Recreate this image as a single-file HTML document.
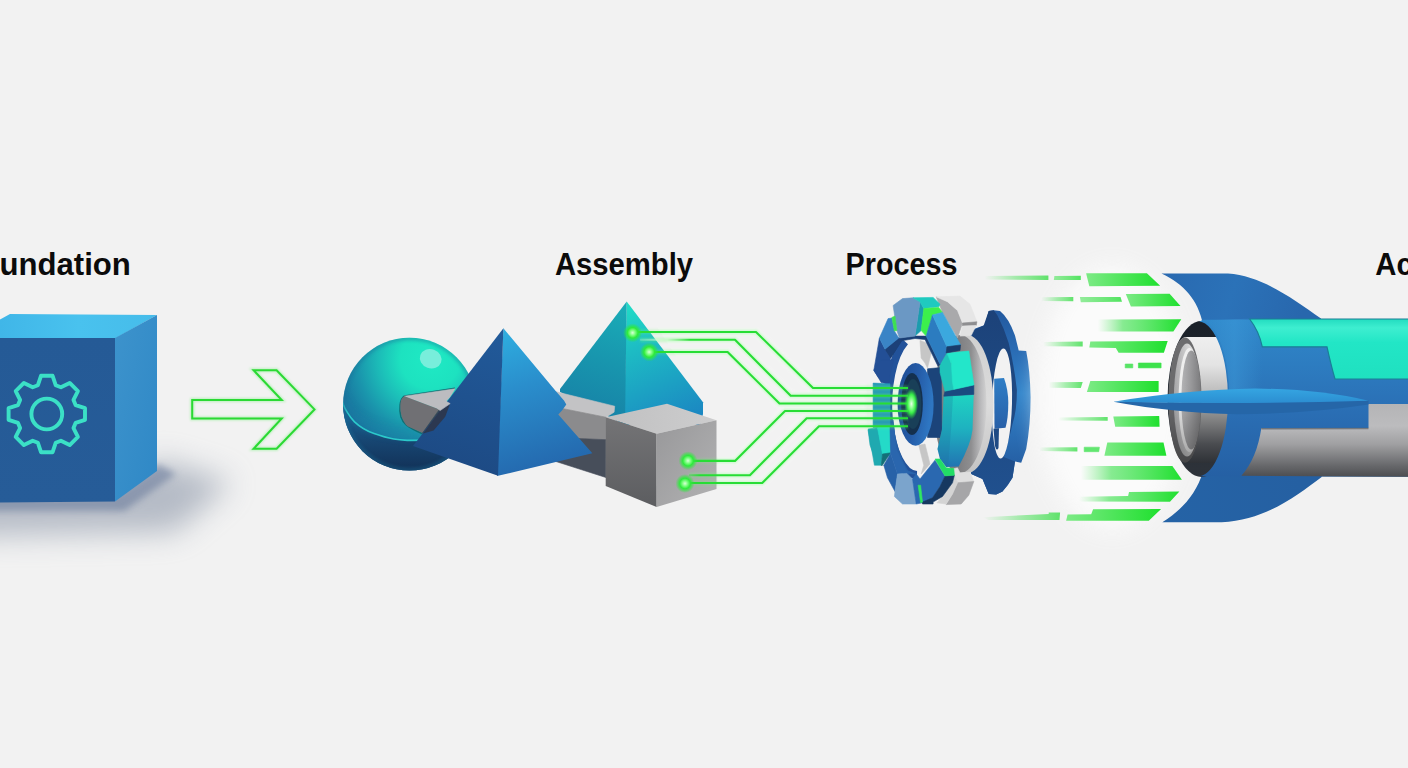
<!DOCTYPE html>
<html lang="en">
<head>
<meta charset="utf-8">
<title>Foundation, Assembly, Process, Acceleration</title>
<style>
html,body{margin:0;padding:0;background:#f2f2f2;overflow:hidden;}
body{width:1408px;height:768px;}
svg{display:block;position:absolute;left:0;top:0;}
text{font-family:"Liberation Sans",sans-serif;font-weight:bold;fill:#0b0b0b;}
</style>
</head>
<body>
<svg width="1408" height="768" viewBox="0 0 1408 768">
<defs>
<filter id="blur12" x="-50%" y="-50%" width="200%" height="200%"><feGaussianBlur stdDeviation="11"/></filter>
<filter id="blur2" x="-50%" y="-50%" width="200%" height="200%"><feGaussianBlur stdDeviation="1.6"/></filter>
<filter id="blur1" x="-50%" y="-50%" width="200%" height="200%"><feGaussianBlur stdDeviation="0.8"/></filter>
<filter id="blur4" x="-50%" y="-50%" width="200%" height="200%"><feGaussianBlur stdDeviation="3.5"/></filter>
<filter id="blur16" x="-50%" y="-80%" width="200%" height="260%"><feGaussianBlur stdDeviation="15"/></filter>
<linearGradient id="cubeFront" x1="0" y1="0" x2="0" y2="1"><stop offset="0" stop-color="#255a96"/><stop offset="1" stop-color="#265c98"/></linearGradient>
<linearGradient id="cubeRight" x1="0" y1="0" x2="1" y2="1"><stop offset="0" stop-color="#3d93cc"/><stop offset="1" stop-color="#2f88c6"/></linearGradient>
<linearGradient id="cubeTop" x1="0" y1="0" x2="1" y2="0"><stop offset="0" stop-color="#40b6e8"/><stop offset="0.5" stop-color="#49c2ee"/><stop offset="1" stop-color="#46bcea"/></linearGradient>
<radialGradient id="sphG" cx="428" cy="362" r="106" fx="431" fy="358" gradientUnits="userSpaceOnUse"><stop offset="0" stop-color="#1feac4"/><stop offset="0.28" stop-color="#1de2c0"/><stop offset="0.48" stop-color="#1cbcb8"/><stop offset="0.68" stop-color="#1a94ac"/><stop offset="0.88" stop-color="#19729e"/><stop offset="1" stop-color="#186094"/></radialGradient>
<linearGradient id="sphLow" x1="0" y1="420" x2="0" y2="472" gradientUnits="userSpaceOnUse"><stop offset="0" stop-color="#195a8a"/><stop offset="0.4" stop-color="#174672"/><stop offset="1" stop-color="#123056"/></linearGradient>
<clipPath id="sphClip"><circle cx="409.5" cy="404.2" r="66.4"/></clipPath>
<linearGradient id="p2L" x1="626" y1="301" x2="585" y2="420" gradientUnits="userSpaceOnUse"><stop offset="0" stop-color="#1aaeb8"/><stop offset="0.5" stop-color="#1896ae"/><stop offset="1" stop-color="#1780a6"/></linearGradient>
<linearGradient id="p2R" x1="628" y1="301" x2="680" y2="425" gradientUnits="userSpaceOnUse"><stop offset="0" stop-color="#21dec6"/><stop offset="0.35" stop-color="#1dbcc4"/><stop offset="1" stop-color="#1b86c2"/></linearGradient>
<linearGradient id="p1L" x1="500" y1="330" x2="455" y2="470" gradientUnits="userSpaceOnUse"><stop offset="0" stop-color="#215a9a"/><stop offset="1" stop-color="#1d4a84"/></linearGradient>
<linearGradient id="p1R" x1="505" y1="330" x2="545" y2="470" gradientUnits="userSpaceOnUse"><stop offset="0" stop-color="#2eaee0"/><stop offset="0.4" stop-color="#2a8ecc"/><stop offset="1" stop-color="#2468ae"/></linearGradient>
<linearGradient id="gcTop" x1="0" y1="0" x2="1" y2="0"><stop offset="0" stop-color="#c0c0c1"/><stop offset="1" stop-color="#cdcdce"/></linearGradient>
<linearGradient id="gcL" x1="0" y1="0" x2="0" y2="1"><stop offset="0" stop-color="#747476"/><stop offset="1" stop-color="#5c5d60"/></linearGradient>
<linearGradient id="gcR" x1="0" y1="0" x2="1" y2="1"><stop offset="0" stop-color="#98989a"/><stop offset="1" stop-color="#b2b2b3"/></linearGradient>
<linearGradient id="bgRim" x1="0" y1="310" x2="0" y2="495" gradientUnits="userSpaceOnUse"><stop offset="0" stop-color="#22589e"/><stop offset="0.22" stop-color="#2a6cb4"/><stop offset="0.45" stop-color="#3184ca"/><stop offset="0.7" stop-color="#2a6cb2"/><stop offset="1" stop-color="#1f4f92"/></linearGradient>
<linearGradient id="bgNavy" x1="0" y1="310" x2="0" y2="495" gradientUnits="userSpaceOnUse"><stop offset="0" stop-color="#1c4279"/><stop offset="0.5" stop-color="#1e4a84"/><stop offset="1" stop-color="#20508e"/></linearGradient>
<linearGradient id="bgHub" x1="0" y1="0" x2="0" y2="1"><stop offset="0" stop-color="#2f7ec6"/><stop offset="1" stop-color="#2860a8"/></linearGradient>
<linearGradient id="discEdge" x1="0" y1="335" x2="0" y2="473" gradientUnits="userSpaceOnUse"><stop offset="0" stop-color="#d0d0d0"/><stop offset="0.5" stop-color="#dcdcdc"/><stop offset="1" stop-color="#c4c4c4"/></linearGradient>
<linearGradient id="discFace" x1="958" y1="0" x2="987" y2="0" gradientUnits="userSpaceOnUse"><stop offset="0" stop-color="#7e7e80"/><stop offset="0.45" stop-color="#8e8e90"/><stop offset="0.8" stop-color="#bcbcbe"/><stop offset="1" stop-color="#d4d4d4"/></linearGradient>
<linearGradient id="tealLow" x1="0" y1="396" x2="0" y2="468" gradientUnits="userSpaceOnUse"><stop offset="0" stop-color="#1fd2c2"/><stop offset="0.45" stop-color="#1eb2c0"/><stop offset="1" stop-color="#2272b2"/></linearGradient>
<linearGradient id="hubRing" x1="0" y1="0" x2="1" y2="0.3"><stop offset="0" stop-color="#1c4a90"/><stop offset="0.55" stop-color="#245aa6"/><stop offset="1" stop-color="#2e76c2"/></linearGradient>
<clipPath id="glowClip"><rect x="718" y="300" width="150" height="220"/><polygon points="640,300 718,300 718,412 704,400"/></clipPath>
<linearGradient id="fadeB" x1="640" y1="0" x2="690" y2="0" gradientUnits="userSpaceOnUse"><stop offset="0" stop-color="#eaffea" stop-opacity="0.2"/><stop offset="0.55" stop-color="#c8f8c8" stop-opacity="0.8"/><stop offset="1" stop-color="#27dd35" stop-opacity="1"/></linearGradient>
<linearGradient id="fadeE" x1="688" y1="0" x2="700" y2="0" gradientUnits="userSpaceOnUse"><stop offset="0" stop-color="#27dd35" stop-opacity="0.3"/><stop offset="1" stop-color="#27dd35" stop-opacity="1"/></linearGradient>
<radialGradient id="dotG" cx="0.5" cy="0.5" r="0.5" fx="0.5" fy="0.5"><stop offset="0" stop-color="#d8ffd8"/><stop offset="0.28" stop-color="#7cff80"/><stop offset="0.55" stop-color="#2eea3c"/><stop offset="1" stop-color="#2eea3c" stop-opacity="0"/></radialGradient>
<radialGradient id="glowG" cx="0.5" cy="0.5" r="0.5" fx="0.5" fy="0.5"><stop offset="0" stop-color="#e8ffe8"/><stop offset="0.3" stop-color="#8cff90"/><stop offset="0.6" stop-color="#38ee48"/><stop offset="1" stop-color="#2ee040" stop-opacity="0"/></radialGradient>
<linearGradient id="stk" x1="0" y1="0" x2="1" y2="0"><stop offset="0" stop-color="#7dea86"/><stop offset="1" stop-color="#1fe02e"/></linearGradient>
<linearGradient id="stkFade" x1="0" y1="0" x2="1" y2="0"><stop offset="0" stop-color="#5fe36c" stop-opacity="0"/><stop offset="0.5" stop-color="#5fe36c" stop-opacity="0.55"/><stop offset="1" stop-color="#4fe05c" stop-opacity="0.9"/></linearGradient>
<linearGradient id="stkFadeBig" x1="0" y1="0" x2="1" y2="0"><stop offset="0" stop-color="#6be878" stop-opacity="0"/><stop offset="0.3" stop-color="#55e464" stop-opacity="0.7"/><stop offset="1" stop-color="#1fe02e" stop-opacity="1"/></linearGradient>
<linearGradient id="stkMid" x1="0" y1="0" x2="1" y2="0"><stop offset="0" stop-color="#7ae884" stop-opacity="0.8"/><stop offset="1" stop-color="#52e460" stop-opacity="1"/></linearGradient>
<linearGradient id="finTop" x1="1162" y1="274" x2="1300" y2="320" gradientUnits="userSpaceOnUse"><stop offset="0" stop-color="#2969b0"/><stop offset="0.5" stop-color="#2b72b8"/><stop offset="1" stop-color="#2867ad"/></linearGradient>
<linearGradient id="finBot" x1="1162" y1="522" x2="1300" y2="476" gradientUnits="userSpaceOnUse"><stop offset="0" stop-color="#2563a6"/><stop offset="1" stop-color="#2560a2"/></linearGradient>
<linearGradient id="cowlIn" x1="0" y1="321" x2="0" y2="477" gradientUnits="userSpaceOnUse"><stop offset="0" stop-color="#1a2028"/><stop offset="0.5" stop-color="#252b33"/><stop offset="1" stop-color="#2e333a"/></linearGradient>
<linearGradient id="nozCyl" x1="0" y1="337" x2="0" y2="463" gradientUnits="userSpaceOnUse"><stop offset="0" stop-color="#efefef"/><stop offset="0.22" stop-color="#e4e4e4"/><stop offset="0.48" stop-color="#b4b4b4"/><stop offset="0.62" stop-color="#8c8c8c"/><stop offset="0.85" stop-color="#4a4c50"/><stop offset="1" stop-color="#2e3136"/></linearGradient>
<linearGradient id="bodyBlue" x1="0" y1="318" x2="0" y2="476" gradientUnits="userSpaceOnUse"><stop offset="0" stop-color="#2f88ca"/><stop offset="0.3" stop-color="#2d7cc0"/><stop offset="0.6" stop-color="#2a6eb4"/><stop offset="1" stop-color="#2560a4"/></linearGradient>
<linearGradient id="cowlHi" x1="1200" y1="0" x2="1262" y2="0" gradientUnits="userSpaceOnUse"><stop offset="0" stop-color="#3c98d8" stop-opacity="0"/><stop offset="0.55" stop-color="#3c98d8" stop-opacity="0.55"/><stop offset="1" stop-color="#3c98d8" stop-opacity="0"/></linearGradient>
<linearGradient id="bodyGray" x1="0" y1="404" x2="0" y2="477" gradientUnits="userSpaceOnUse"><stop offset="0" stop-color="#b4b4b6"/><stop offset="0.3" stop-color="#bcbcbe"/><stop offset="0.55" stop-color="#a0a0a2"/><stop offset="0.85" stop-color="#66676a"/><stop offset="1" stop-color="#4c4d50"/></linearGradient>
<linearGradient id="teal" x1="0" y1="318" x2="0" y2="379" gradientUnits="userSpaceOnUse"><stop offset="0" stop-color="#1fdabe"/><stop offset="0.16" stop-color="#3eeed0"/><stop offset="0.4" stop-color="#22e6c6"/><stop offset="1" stop-color="#1fe0c0"/></linearGradient>
<linearGradient id="nozR2" x1="0" y1="0" x2="1" y2="0"><stop offset="0" stop-color="#a8a8aa"/><stop offset="0.6" stop-color="#d8d8d8"/><stop offset="1" stop-color="#f4f4f4"/></linearGradient>
<linearGradient id="nozIn" x1="0" y1="0" x2="1" y2="0"><stop offset="0" stop-color="#b6b6b8"/><stop offset="0.5" stop-color="#9a9a9c"/><stop offset="1" stop-color="#7c7c7e"/></linearGradient>
<linearGradient id="nozShade" x1="0" y1="337" x2="0" y2="463" gradientUnits="userSpaceOnUse"><stop offset="0" stop-color="#000" stop-opacity="0"/><stop offset="0.5" stop-color="#000" stop-opacity="0.02"/><stop offset="1" stop-color="#000" stop-opacity="0.35"/></linearGradient>
<linearGradient id="finSideTop" x1="0" y1="388" x2="0" y2="404" gradientUnits="userSpaceOnUse"><stop offset="0" stop-color="#35a6e2"/><stop offset="1" stop-color="#2b8cd0"/></linearGradient>
</defs>
<rect x="0" y="0" width="1408" height="768" fill="#f2f2f2"/>
<polygon points="-40,488 116,488 160,460 232,482 175,532 -40,536" fill="#78849a" opacity="0.5" filter="url(#blur16)"/>
<polygon points="-30,492 116,492 158,464 176,474 124,511 -30,511" fill="#5a6d92" opacity="0.5" filter="url(#blur4)"/>
<polygon points="0,319.5 10,314 157,315 115,338.5 0,338.5" fill="url(#cubeTop)" />
<polygon points="115,338 157,315 157,471 115,501.5" fill="url(#cubeRight)" />
<polygon points="0,338 115,338 115,501.5 0,502.5" fill="url(#cubeFront)" />
<path d="M37.9,385.2 L41.0,375.8 L52.6,375.8 L55.7,385.2 L60.9,387.3 L69.7,382.9 L77.9,391.1 L73.5,399.9 L75.6,405.1 L85.0,408.2 L85.0,419.8 L75.6,422.9 L73.5,428.1 L77.9,436.9 L69.7,445.1 L60.9,440.7 L55.7,442.8 L52.6,452.2 L41.0,452.2 L37.9,442.8 L32.7,440.7 L23.9,445.1 L15.7,436.9 L20.1,428.1 L18.0,422.9 L8.6,419.8 L8.6,408.2 L18.0,405.1 L20.1,399.9 L15.7,391.1 L23.9,382.9 L32.7,387.3 Z" fill="none" stroke="#3be0c6" stroke-width="3.9" stroke-linejoin="round"/>
<circle cx="46.8" cy="414" r="15.4" fill="none" stroke="#3be0c6" stroke-width="3.9"/>
<path d="M192.2,400 L281.7,400 L253.6,370.3 L276.6,370.3 L314.5,409.4 L276.6,448.7 L253.6,448.7 L281.7,418.4 L192.2,418.4 Z" fill="none" stroke="#5cf060" stroke-width="4" opacity="0.35" filter="url(#blur1)"/>
<path d="M192.2,400 L281.7,400 L253.6,370.3 L276.6,370.3 L314.5,409.4 L276.6,448.7 L253.6,448.7 L281.7,418.4 L192.2,418.4 Z" fill="none" stroke="#2bd934" stroke-width="2" stroke-linejoin="miter"/>
<circle cx="409.5" cy="404.2" r="66.4" fill="url(#sphG)"/>
<g clip-path="url(#sphClip)">
<path d="M341,397 L343.2,404.2 C344.5,408 349,416.5 354.5,421.8 C360,427 367,431 374,433.5 C381,436 388,438 393.6,439 C398,439.8 403,440.2 407.3,440.4 L480,440 L480,480 L338,480 Z" fill="url(#sphLow)"/>
<path d="M341,399 C346,412 356,421 374,428 C385,431 397,433 410,434" fill="none" stroke="#1a86a8" stroke-width="10" opacity="0.35" filter="url(#blur4)"/>
<path d="M341,397 L343.2,404.2 C344.5,408 349,416.5 354.5,421.8 C360,427 367,431 374,433.5 C381,436 388,438 393.6,439 C398,439.8 403,440.2 407.3,440.4 L480,440" fill="none" stroke="#2fd4d0" stroke-width="1.6" opacity="0.9"/>
<circle cx="409.5" cy="404.2" r="66.4" fill="none" stroke="#1a6f98" stroke-width="6" opacity="0.35" filter="url(#blur2)"/>
</g>
<ellipse cx="430.7" cy="358.7" rx="11" ry="9.6" fill="#78eedb" transform="rotate(20 430.7 358.7)"/>
<path d="M455,388.4 L404.6,396 C399.5,399 399,410 401,417 C403,423 406,426.5 422.5,433.8" fill="none" stroke="#0e6f74" stroke-width="1.6"/>
<polygon points="404.4,396.2 455.0,388.8 450.0,396.9 446.2,401.2 449.4,403.1 439.4,409.4" fill="#bcbcc0"  stroke="#bcbcc0" stroke-width="0.6" stroke-linejoin="round"/>
<path d="M404.4,396.3 L439.4,409.4 L422.5,433.1 L407.5,426.3 C402,421 400,413 400.3,405 C400.6,400 402,397.5 404.4,396.3 Z" fill="#707074"/>
<polygon points="439.4,409.4 449.4,403.1 455.0,407.5 432.5,435.0 422.5,433.1" fill="#3b4250"  stroke="#3b4250" stroke-width="0.6" stroke-linejoin="round"/>
<polygon points="626.7,301.4 624,425 700,425 703,414 703,402.3" fill="url(#p2R)" />
<polygon points="626.7,301.4 560,389 560,392 625,425" fill="url(#p2L)" />
<polygon points="540,388 556.3,391.8 614.7,406.2 614.1,412.2 605.7,417.4 545,405" fill="#c3c3c5"  stroke="#c3c3c5" stroke-width="0.6" stroke-linejoin="round"/>
<polygon points="545,405 605.9,417.2 605.9,440 545,437" fill="#8b8b8d"  stroke="#8b8b8d" stroke-width="0.6" stroke-linejoin="round"/>
<polygon points="545,437 605.9,439.7 605.9,477.5 545,458" fill="#474e5a"  stroke="#474e5a" stroke-width="0.6" stroke-linejoin="round"/>
<polygon points="503.4,328.3 497,475.8 498,475.8 592.3,453.2 558.3,414.6 562,410.5 566.3,404.6 564,400.5 555.7,391.1" fill="url(#p1R)" />
<polygon points="503.4,328.3 413,446 498,475.8" fill="url(#p1L)" />
<path d="M440.1,410.4 L450,404 L445.2,416.8 L433.6,430.4 L423.1,433.4 Z" fill="#2c3850"/>
<polygon points="444.6,400.6 450.2,403.6 440.1,410.6 437.5,408.6" fill="#bcbcc0"  stroke="#bcbcc0" stroke-width="0.6" stroke-linejoin="round"/>
<polygon points="605.7,417.2 667,403.8 716.5,420.2 656.6,433.7" fill="url(#gcTop)" />
<polygon points="605.7,417.2 656.6,433.7 656.6,507 605.7,486" fill="url(#gcL)" />
<polygon points="656.6,433.7 716.5,420.2 716.5,489 656.6,507" fill="url(#gcR)" />
<path d="M985,325 L988.7,311.1 L993.7,310.2 L1000,311.1 Q1008.7,318 1015,335.5 L1018.7,350.5 L1026.2,351.1 Q1030,370 1030.6,397 Q1030.6,425 1026.2,449 L1021.2,462.7 L1015,461.5 L1012.5,477.7 Q1008,486 1002.5,491.5 L996.2,494.6 L988.7,494 L982.5,479 L971.2,474 L960,400 L971,330 Z" fill="url(#bgRim)"/>
<path d="M972.5,330.5 L983.7,325.5 L988.7,311.1 L993.7,310.2 L997.5,315.5 Q1004,328 1008.7,343 Q1014,365 1016.9,390 Q1017,410 1012.5,424 Q1010,436 1003.7,457 L1015,461.5 L1012.5,477.7 L1002.5,491.5 L996.2,494.6 L988.7,494 L982.5,479 L971.2,474 L960,400 Z" fill="url(#bgNavy)"/>
<ellipse cx="1002" cy="403.5" rx="10" ry="55" fill="#f2f2f2" transform="rotate(1.5 1002 403.5)"/>
<path d="M994.2,378.7 L1004,378 Q1008.3,390 1008.3,403 Q1008.3,418 1005.5,427.7 L994.5,428.7 Z" fill="url(#bgHub)"/>
<path d="M993.5,428.7 L999,428.3 L998.5,448 Q996.5,452 995,446 Z" fill="#1e4a84"/>
<ellipse cx="967" cy="404" rx="26.5" ry="69" fill="url(#discEdge)"/>
<ellipse cx="960" cy="404" rx="26.5" ry="69" fill="url(#discFace)"/>
<polygon points="936.2,296.8 947.5,301.8 957.5,310.5 962.5,323.0 957.5,338.0 942.5,312.4" fill="#a9a9ab"  stroke="#a9a9ab" stroke-width="0.6" stroke-linejoin="round"/>
<polygon points="936.2,296.8 960.0,296.1 970.0,304.2 976.9,321.8 962.5,323.0 957.5,310.5 947.5,301.8" fill="#e6e6e6"  stroke="#e6e6e6" stroke-width="0.6" stroke-linejoin="round"/>
<polygon points="962.5,323.0 976.9,321.8 976.2,325.5 962.5,326.1" fill="#8e8e90"  stroke="#8e8e90" stroke-width="0.6" stroke-linejoin="round"/>
<polygon points="962.5,326.1 976.2,325.5 971.2,335.5 960.0,336.1" fill="#e2e2e2"  stroke="#e2e2e2" stroke-width="0.6" stroke-linejoin="round"/>
<polygon points="952.5,469.0 957.5,467.8 960.0,472.8 970.0,472.1 973.8,481.5 957.5,482.8 954.4,475.2" fill="#dedede"  stroke="#dedede" stroke-width="0.6" stroke-linejoin="round"/>
<polygon points="957.5,482.8 973.8,481.5 968.8,495.2 961.2,504.0 946.2,504.6 952.5,494.0" fill="#a6a6a8"  stroke="#a6a6a8" stroke-width="0.6" stroke-linejoin="round"/>
<polygon points="954.4,475.2 957.5,482.8 952.5,494.0 946.2,504.0 936.9,502.8 942.5,496.5 952.5,482.8" fill="#d4d4d4"  stroke="#d4d4d4" stroke-width="0.6" stroke-linejoin="round"/>
<polygon points="920.0,340.5 930.0,344.2 931.2,353.0 927.5,368.0 925.0,363.0 921.2,358.0" fill="#c6c6c6"  stroke="#c6c6c6" stroke-width="0.6" stroke-linejoin="round"/>
<polygon points="918.8,445.2 925.0,444.0 930.0,464.0 921.2,474.0 923.8,465.2" fill="#c6c6c6"  stroke="#c6c6c6" stroke-width="0.6" stroke-linejoin="round"/>
<polygon points="927.5,368.8 941.2,367.5 941.9,430.0 940.0,437.5 927.5,437.5" fill="#1b447a"  stroke="#1b447a" stroke-width="0.6" stroke-linejoin="round"/>
<path d="M943.7,396.2 L973.7,394.4 L972.5,430 Q971,444 958.7,466.5 L946.2,467.1 L940,459 L937.5,449 L941.9,430 Z" fill="url(#tealLow)"/>
<path d="M943.7,396.2 L953,395.6 L951,430 L948,467 L946.2,467.1 L940,459 L937.5,449 L941.9,430 Z" fill="#1a6f9a" opacity="0.25"/>
<polygon points="945.0,391.2 973.8,385.0 973.8,394.4 943.8,396.2" fill="#1a4a80"  stroke="#1a4a80" stroke-width="0.6" stroke-linejoin="round"/>
<polygon points="940.0,364.2 946.9,353.0 951.2,363.0 955.0,384.0 952.5,382.5 953.8,389.4 945.0,391.2 940.0,372.5 940.0,360.0" fill="#1fc4ba"  stroke="#1fc4ba" stroke-width="0.6" stroke-linejoin="round"/>
<polygon points="946.9,353.0 968.8,351.1 973.8,384.0 973.8,385.0 953.8,389.4 952.5,382.5 951.2,360.0 951.2,363.0" fill="#23e6ca"  stroke="#23e6ca" stroke-width="0.6" stroke-linejoin="round"/>
<path d="M905,341.5 A29,70 0 0 0 917,475" fill="none" stroke="#22529a" stroke-width="8"/>
<path d="M890.5,420 Q892,450 906,473" fill="none" stroke="#2760a6" stroke-width="6"/>
<polygon points="885.0,349.2 898.8,338.0 915.0,336.1 926.2,336.1 940.0,364.2 938.1,366.5 925.0,339.5 915.0,338.5 901.5,340.8 893.8,353.0 890.6,358.0" fill="#1b3f74"  stroke="#1b3f74" stroke-width="0.6" stroke-linejoin="round"/>
<polygon points="879.4,338.0 885.0,349.2 890.6,358.0 885.6,384.0 878.8,378.0 873.8,370.5" fill="#234f96"  stroke="#234f96" stroke-width="0.6" stroke-linejoin="round"/>
<polygon points="885.0,349.2 898.8,338.0 901.9,340.5 893.8,353.0 890.6,358.0" fill="#1c4078"  stroke="#1c4078" stroke-width="0.6" stroke-linejoin="round"/>
<polygon points="888.1,318.6 891.9,318.0 894.4,331.1 898.8,338.0 885.0,349.2 879.4,338.0" fill="#3a84c6"  stroke="#3a84c6" stroke-width="0.6" stroke-linejoin="round"/>
<polygon points="873.8,370.0 881.2,360.0 893.8,360.0 890.0,375.0 888.8,383.8 881.2,382.5" fill="#234f96"  stroke="#234f96" stroke-width="0.6" stroke-linejoin="round"/>
<polygon points="920.0,301.8 923.8,308.6 921.2,330.5 915.0,336.1" fill="#1b9cae"  stroke="#1b9cae" stroke-width="0.6" stroke-linejoin="round"/>
<polygon points="893.1,305.5 902.5,298.6 913.1,297.8 920.0,301.8 915.0,336.1 899.4,338.0 896.9,330.5" fill="#6b98c4"  stroke="#6b98c4" stroke-width="0.6" stroke-linejoin="round"/>
<polygon points="913.1,297.8 933.1,297.4 940.0,304.2 938.8,306.8 923.8,308.6 920.0,301.8" fill="#1fcabf"  stroke="#1fcabf" stroke-width="0.6" stroke-linejoin="round"/>
<polygon points="923.8,308.6 938.8,307.4 942.5,312.4 932.5,314.9 926.2,336.1 921.2,330.5" fill="#3cf04c"  stroke="#3cf04c" stroke-width="0.6" stroke-linejoin="round"/>
<polygon points="891.9,317.4 895.0,316.1 896.9,330.5 894.4,331.1" fill="#3ce050"  stroke="#3ce050" stroke-width="0.6" stroke-linejoin="round"/>
<polygon points="932.5,314.9 946.9,346.8 946.2,353.0 940.0,364.2 926.2,336.1" fill="#2c7cc0"  stroke="#2c7cc0" stroke-width="0.6" stroke-linejoin="round"/>
<polygon points="932.5,314.9 942.5,312.4 960.6,344.9 946.9,346.8" fill="#3ba8de"  stroke="#3ba8de" stroke-width="0.6" stroke-linejoin="round"/>
<polygon points="946.9,346.8 960.6,344.9 960.0,350.5 946.2,353.0" fill="#183c6c"  stroke="#183c6c" stroke-width="0.6" stroke-linejoin="round"/>
<polygon points="873.1,383.1 890.0,383.8 890.0,427.5 873.1,427.5" fill="#2496b8"  stroke="#2496b8" stroke-width="0.6" stroke-linejoin="round"/>
<polygon points="868.1,430.0 877.5,429.4 881.2,456.0 873.8,456.0 870.0,445.0" fill="#1fa9b0"  stroke="#1fa9b0" stroke-width="0.6" stroke-linejoin="round"/>
<polygon points="877.5,429.4 888.8,427.5 890.0,456.0 881.2,456.0" fill="#24dcc8"  stroke="#24dcc8" stroke-width="0.6" stroke-linejoin="round"/>
<polygon points="868.1,429.0 877.5,427.8 882.5,454.0 881.2,465.2 874.4,465.2 870.6,442.8" fill="#1fa9b0"  stroke="#1fa9b0" stroke-width="0.6" stroke-linejoin="round"/>
<polygon points="877.5,427.8 890.0,426.5 890.6,452.8 882.5,454.0" fill="#24dac8"  stroke="#24dac8" stroke-width="0.6" stroke-linejoin="round"/>
<polygon points="882.5,454.0 890.6,452.8 881.9,465.9 881.2,465.2" fill="#147078"  stroke="#147078" stroke-width="0.6" stroke-linejoin="round"/>
<polygon points="883.8,465.2 890.6,453.4 897.5,474.0 895.0,491.5 887.5,477.8" fill="#2862a8"  stroke="#2862a8" stroke-width="0.6" stroke-linejoin="round"/>
<polygon points="890.0,426.5 893.8,426.5 896.2,449.0 906.2,470.2 916.2,474.0 906.9,473.4 897.5,474.0 890.6,453.4" fill="#2a66ae"  stroke="#2a66ae" stroke-width="0.6" stroke-linejoin="round"/>
<polygon points="897.5,474.0 906.9,473.4 912.5,479.0 916.2,504.0 902.5,504.0 894.4,496.5 895.0,491.5" fill="#7ba4cc"  stroke="#7ba4cc" stroke-width="0.6" stroke-linejoin="round"/>
<polygon points="912.5,479.0 916.2,474.0 920.0,479.0 935.0,460.2 945.0,475.9 940.0,486.5 932.5,497.8 922.5,502.8 916.2,504.0" fill="#2a68b0"  stroke="#2a68b0" stroke-width="0.6" stroke-linejoin="round"/>
<polygon points="945.0,475.9 954.4,475.2 952.5,482.8 942.5,496.5 933.1,502.1 933.1,504.0 922.5,504.0 922.5,502.1 932.5,497.8 940.0,486.5" fill="#163860"  stroke="#163860" stroke-width="0.6" stroke-linejoin="round"/>
<polygon points="935.0,459.0 940.0,459.0 946.2,467.8 953.8,468.4 954.4,475.2 945.0,475.9" fill="#22dd66"  stroke="#22dd66" stroke-width="0.6" stroke-linejoin="round"/>
<polygon points="918.1,485.2 920.6,485.2 922.5,502.1 920.6,502.8" fill="#30e860"  stroke="#30e860" stroke-width="0.6" stroke-linejoin="round"/>
<ellipse cx="915.6" cy="404.4" rx="18" ry="41.3" fill="url(#hubRing)"/>
<ellipse cx="912" cy="404" rx="10.8" ry="31" fill="#14304e"/>
<ellipse cx="913" cy="404" rx="8.4" ry="25" fill="#193f58"/>
<g clip-path="url(#glowClip)">
<path d="M632.4,332 L756,332 L813,388 L866,388" fill="none" stroke="#ffffff" stroke-width="8" opacity="0.38" filter="url(#blur2)"/>
<path d="M640,339.7 L735,339.7 L790.7,395.8 L866,395.8" fill="none" stroke="#ffffff" stroke-width="8" opacity="0.38" filter="url(#blur2)"/>
<path d="M649,352 L727.6,352 L779.5,403.5 L866,403.5" fill="none" stroke="#ffffff" stroke-width="8" opacity="0.38" filter="url(#blur2)"/>
<path d="M688,460.9 L735,460.9 L785,411 L866,411" fill="none" stroke="#ffffff" stroke-width="8" opacity="0.38" filter="url(#blur2)"/>
<path d="M689,475.2 L749.9,475.2 L806.7,418.3 L866,418.3" fill="none" stroke="#ffffff" stroke-width="8" opacity="0.38" filter="url(#blur2)"/>
<path d="M685.5,483 L762.2,483 L819,426.3 L866,426.3" fill="none" stroke="#ffffff" stroke-width="8" opacity="0.38" filter="url(#blur2)"/>
</g>
<path d="M632.4,332 L756,332 L813,388 L908,388" fill="none" stroke="#6cff70" stroke-width="5" opacity="0.28" filter="url(#blur1)"/>
<path d="M640,339.7 L735,339.7 L790.7,395.8 L908,395.8" fill="none" stroke="#6cff70" stroke-width="5" opacity="0.28" filter="url(#blur1)"/>
<path d="M649,352 L727.6,352 L779.5,403.5 L908,403.5" fill="none" stroke="#6cff70" stroke-width="5" opacity="0.28" filter="url(#blur1)"/>
<path d="M688,460.9 L735,460.9 L785,411 L908,411" fill="none" stroke="#6cff70" stroke-width="5" opacity="0.28" filter="url(#blur1)"/>
<path d="M689,475.2 L749.9,475.2 L806.7,418.3 L908,418.3" fill="none" stroke="#6cff70" stroke-width="5" opacity="0.28" filter="url(#blur1)"/>
<path d="M685.5,483 L762.2,483 L819,426.3 L908,426.3" fill="none" stroke="#6cff70" stroke-width="5" opacity="0.28" filter="url(#blur1)"/>
<path d="M632.4,332 L756,332 L813,388 L908,388" fill="none" stroke="#27dd35" stroke-width="2.1" stroke-linejoin="round"/>
<path d="M640,339.7 L735,339.7 L790.7,395.8 L908,395.8" fill="none" stroke="url(#fadeB)" stroke-width="2.1" stroke-linejoin="round"/>
<path d="M649,352 L727.6,352 L779.5,403.5 L908,403.5" fill="none" stroke="#27dd35" stroke-width="2.1" stroke-linejoin="round"/>
<path d="M688,460.9 L735,460.9 L785,411 L908,411" fill="none" stroke="#27dd35" stroke-width="2.1" stroke-linejoin="round"/>
<path d="M689,475.2 L749.9,475.2 L806.7,418.3 L908,418.3" fill="none" stroke="url(#fadeE)" stroke-width="2.1" stroke-linejoin="round"/>
<path d="M685.5,483 L762.2,483 L819,426.3 L908,426.3" fill="none" stroke="#27dd35" stroke-width="2.1" stroke-linejoin="round"/>
<circle cx="632.6" cy="332.8" r="9.5" fill="url(#dotG)"/>
<circle cx="649.2" cy="352" r="9.5" fill="url(#dotG)"/>
<circle cx="688" cy="460.7" r="9.5" fill="url(#dotG)"/>
<circle cx="685" cy="483.5" r="9.5" fill="url(#dotG)"/>
<ellipse cx="911.4" cy="403.8" rx="6.8" ry="15.5" fill="url(#glowG)"/>
<ellipse cx="1112" cy="398" rx="74" ry="132" fill="#fdfdfd" opacity="0.85" filter="url(#blur12)"/>
<polygon points="1086.1,273.3 1146.9,273.3 1160.2,285.8 1089.3,286.2" fill="url(#stk)" />
<polygon points="1054.4,276.1 1080.8,275.8 1080.8,279.9 1053.8,279.9" fill="url(#stkMid)" />
<polygon points="984.5,276.1 1048.4,275.4 1048.4,279.9 984.5,279.5" fill="url(#stkFade)" />
<polygon points="1125.8,294.1 1169.6,293.7 1180.5,306.0 1130.9,306.4" fill="url(#stk)" />
<polygon points="1079.9,296.9 1120.5,296.9 1122.0,301.8 1080.8,302.2" fill="url(#stkMid)" />
<polygon points="1041.2,297.3 1073.3,296.9 1073.3,301.3 1041.2,300.9" fill="url(#stkFade)" />
<polygon points="1097.8,319.6 1181.3,319.2 1173.4,331.5 1097.8,331.5" fill="url(#stkFadeBig)" />
<polygon points="1090.3,341.5 1167.7,340.9 1163.9,352.8 1118.6,352.8 1115.8,347.9 1089.3,347.5" fill="url(#stk)" />
<polygon points="1043.1,341.9 1082.7,341.5 1082.7,346.6 1043.1,346.2" fill="url(#stkFade)" />
<polygon points="1138.4,363.0 1161.1,363.0 1161.1,367.9 1138.4,367.9" fill="#3de24c"  stroke="#3de24c" stroke-width="0.6" stroke-linejoin="round"/>
<polygon points="1125.2,364.0 1132.8,364.0 1132.8,367.9 1125.2,367.9" fill="#58e466"  stroke="#58e466" stroke-width="0.6" stroke-linejoin="round"/>
<polygon points="1090.3,381.1 1158.6,381.1 1158.6,391.9 1086.9,391.9" fill="url(#stk)" />
<polygon points="1048.7,382.3 1082.7,381.9 1080.8,388.1 1048.7,387.7" fill="url(#stkFade)" />
<polygon points="1113.3,416.4 1159.2,416.1 1159.6,426.8 1115.2,426.8" fill="url(#stk)" />
<polygon points="1058.2,417.4 1107.7,417.0 1107.7,420.8 1058.2,420.4" fill="url(#stkFade)" />
<polygon points="1107.3,442.5 1163.5,442.5 1166.4,455.7 1104.4,455.7" fill="url(#stk)" />
<polygon points="1084.2,447.2 1099.4,447.2 1098.8,451.7 1084.2,451.7" fill="#62e670"  stroke="#62e670" stroke-width="0.6" stroke-linejoin="round"/>
<polygon points="1039.3,447.6 1077.4,447.2 1077.4,451.4 1039.3,451.0" fill="url(#stkFade)" />
<polygon points="1080.8,465.9 1172.4,465.9 1181.9,479.7 1080.8,479.7" fill="url(#stkFadeBig)" />
<polygon points="1129.0,492.0 1179.4,491.6 1170.0,501.8 1079.0,501.4 1079.0,496.7 1128.1,496.1" fill="url(#stkFadeBig)" />
<polygon points="1093.1,509.3 1161.1,509.0 1148.8,520.7 1066.1,520.7 1067.6,514.6 1091.2,514.2" fill="url(#stk)" />
<polygon points="982.7,517.3 1048.7,513.9 1048.7,512.4 1060.1,512.4 1059.5,519.9 988.3,519.9" fill="url(#stkFade)" />
<path d="M1161.5,273.4 L1228,273.6 C1262,276 1292,298 1321,318.5 L1321,324 L1203,324 C1198,300 1184,284 1161.5,273.4 Z" fill="url(#finTop)"/>
<path d="M1203,472 C1196,494 1182,510 1162.3,522.3 L1221.7,522.3 C1266,520 1296,496 1321.7,476.9 L1321.7,470 Z" fill="url(#finBot)"/>
<ellipse cx="1201.5" cy="399" rx="34" ry="78" fill="url(#cowlIn)"/>
<path d="M1186,337 L1236,337 L1236,463 L1186,463 Z" fill="url(#nozCyl)"/>
<ellipse cx="1186" cy="400" rx="17" ry="63" fill="url(#nozCyl)"/>
<path d="M1199.5,321.5 A30,77.5 0 0 1 1199.5,476.3 L1408,476.8 L1408,319.3 L1203,319.8 Z" fill="url(#bodyBlue)"/>
<path d="M1200.4,320.5 A29,78.5 0 0 1 1229.4,399 L1262,399 L1262,318.3 Z" fill="url(#cowlHi)"/>
<path d="M1261.3,428.3 L1368.5,428 L1368.5,404 L1408,404 L1408,476.8 L1241.4,475.8 Q1257,458 1261.3,428.3 Z" fill="url(#bodyGray)"/>
<path d="M1261.3,428.8 L1368.5,428.5" stroke="#5c6066" stroke-width="1.4" opacity="0.7"/>
<path d="M1249.6,319 Q1259,331 1262.3,346.8 L1327,346.8 Q1331,365 1335,379 L1415,379 L1415,319 Z" fill="url(#teal)" stroke="#1a7f96" stroke-width="1.2"/>
<rect x="1250" y="317" width="158" height="1.8" fill="#2a8fc0" opacity="0.0"/>
<ellipse cx="1185" cy="400" rx="16.5" ry="62.6" fill="#6c6c6e"/>
<ellipse cx="1187" cy="400" rx="13.2" ry="56.5" fill="url(#nozR2)"/>
<ellipse cx="1189.2" cy="400" rx="10.6" ry="52" fill="#f0f0f0"/>
<ellipse cx="1191.2" cy="400" rx="9.8" ry="49.5" fill="url(#nozIn)"/>
<ellipse cx="1185" cy="400" rx="16.5" ry="62.6" fill="url(#nozShade)"/>
<path d="M1113.5,401.7 Q1170,412.5 1238,414.3 Q1305,414 1368.5,404.5 L1368.5,400.8 Q1240,403.5 1113.5,401.7 Z" fill="#2566a8"/>
<path d="M1113.5,401.7 Q1190,389.5 1255,388.6 Q1320,389 1368.5,400.8 Q1240,404.5 1113.5,401.7 Z" fill="url(#finSideTop)"/>
<text transform="translate(130.8,275) scale(1.017,1)" font-size="30.6" text-anchor="end" dx="0 0 5">Foundation</text>
<text x="554.9" y="275" font-size="30.6" textLength="138.2" lengthAdjust="spacingAndGlyphs">Assembly</text>
<text x="845.6" y="275" font-size="30.6" textLength="111.8" lengthAdjust="spacingAndGlyphs">Process</text>
<text x="1375.3" y="275" font-size="30.6" textLength="176" lengthAdjust="spacingAndGlyphs">Acceleration</text>
</svg>
</body>
</html>
